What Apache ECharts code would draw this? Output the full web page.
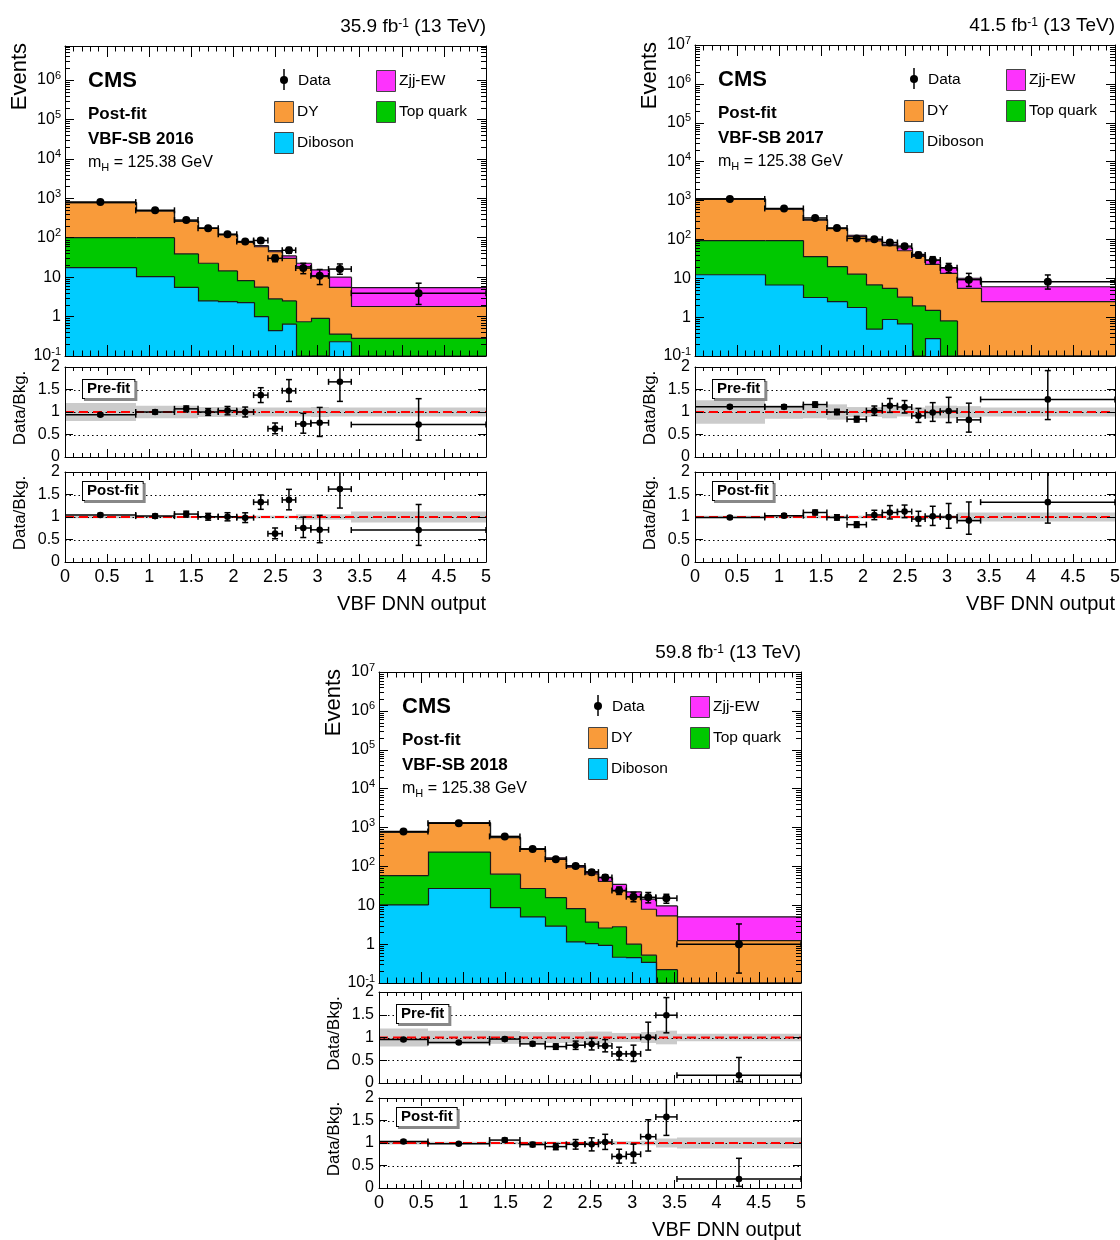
<!DOCTYPE html>
<html><head><meta charset="utf-8">
<script src="https://cdn.jsdelivr.net/npm/echarts@6/dist/echarts.min.js"></script>
<style>html,body{margin:0;padding:0;background:#fff}#c{width:1120px;height:1240px}</style>
</head><body><div id="c"></div><script>
const FONT = '"Liberation Sans", Arial, Helvetica, sans-serif';

// ---------------- data ----------------
const years = ['2016', '2017', '2018'];
const lumis = ['35.9', '41.5', '59.8'];
const xTickLabels = ['0', '0.5', '1', '1.5', '2', '2.5', '3', '3.5', '4', '4.5', '5'];
const ratioTickLabels = ['0', '0.5', '1', '1.5', '2'];
const ratioGuides = [0.5, 1, 1.5];
const logMinorMultipliers = [2, 3, 4, 5, 6, 7, 8, 9];

const edges2016 = [0, 0.84, 1.30, 1.58, 1.82, 2.04, 2.24, 2.41, 2.58, 2.74, 2.92, 3.13, 3.40, 5];
const diboson2016 = [17.5, 10.3, 5.5, 2.5, 2.4, 2.26, 1.0, 0.44, 0.64, 0, 0, 0.23, 0];
const topquark2016 = [82.5, 89.7, 33.2, 20, 12, 5.94, 4.6, 2.36, 1.86, 0.74, 0.9, 0.13, 0.28];
const dy2016 = [676, 377, 222, 150.5, 102.6, 68.3, 53.4, 41.2, 27.5, 17.76, 9.4, 5.14, 1.52];
const zjj2016 = [4, 5, 4, 3, 4, 2.5, 4, 3, 4.5, 4, 4.9, 4.5, 3.6];
const data2016 = [800, 495, 280, 174, 122, 80, 85, 30, 48, 17, 10.8, 16, 3.9];
const errUp2016 = [0.035, 0.045, 0.06, 0.075, 0.09, 0.11, 0.12, 0.2, 0.17, 0.32, 0.45, 0.35, 0.8];
const errDn2016 = [0.035, 0.045, 0.06, 0.075, 0.09, 0.11, 0.12, 0.18, 0.16, 0.28, 0.4, 0.26, 0.48];
const preRatio2016 = [0.94, 1.0, 1.07, 1.0, 1.03, 1.0, 1.375, 0.63, 1.47, 0.735, 0.76, 1.67, 0.72];
const postRatio2016 = [1.045, 1.02, 1.065, 1.005, 1.005, 0.985, 1.33, 0.63, 1.38, 0.755, 0.715, 1.62, 0.71];
const preBand2016 = [0.2, 0.14, 0.14, 0.11, 0.11, 0.1, 0.1, 0.1, 0.1, 0.1, 0.11, 0.1, 0.1];
const postBand2016 = [0.03, 0.025, 0.025, 0.025, 0.025, 0.025, 0.03, 0.03, 0.03, 0.06, 0.06, 0.06, 0.12];

const edges2017 = [0, 0.83, 1.29, 1.57, 1.81, 2.04, 2.23, 2.41, 2.58, 2.74, 2.92, 3.12, 3.40, 5];
const diboson2017 = [12.3, 6.7, 3.2, 2.5, 1.77, 0.49, 0.87, 0.67, 0, 0.28, 0, 0, 0];
const topquark2017 = [80.7, 86.3, 32.8, 17.5, 11.0, 6.3, 4.6, 2.6, 1.95, 1.22, 0.8, 0, 0];
const dy2017 = [1007, 504, 275, 170, 107, 84, 63.5, 47.7, 34.6, 21.3, 12.6, 5.5, 2.5];
const zjj2017 = [5, 8, 12, 6, 8, 6, 6, 10, 4.4, 6.2, 5.3, 4.5, 3.55];
const data2017 = [1095, 625, 355, 195, 106, 101, 83, 67, 39.5, 29.4, 18.5, 9.2, 8.1];
const errUp2017 = [0.03, 0.04, 0.05, 0.06, 0.075, 0.1, 0.14, 0.13, 0.18, 0.22, 0.3, 0.45, 0.5];
const errDn2017 = [0.03, 0.04, 0.05, 0.06, 0.075, 0.1, 0.13, 0.12, 0.16, 0.2, 0.25, 0.33, 0.35];
const preRatio2017 = [1.115, 1.115, 1.165, 1.0, 0.84, 1.03, 1.14, 1.11, 0.915, 0.99, 1.02, 0.825, 1.28];
const postRatio2017 = [0.99, 1.03, 1.1, 0.99, 0.83, 1.045, 1.1, 1.12, 0.955, 1.015, 1.0, 0.92, 1.33];
const preBand2017 = [0.26, 0.15, 0.14, 0.17, 0.11, 0.11, 0.14, 0.1, 0.1, 0.14, 0.14, 0.13, 0.1];
const postBand2017 = [0.03, 0.03, 0.03, 0.03, 0.03, 0.03, 0.03, 0.03, 0.03, 0.04, 0.04, 0.1, 0.1];

const edges2018 = [0, 0.58, 1.31, 1.67, 1.97, 2.22, 2.44, 2.60, 2.76, 2.93, 3.10, 3.28, 3.53, 5];
const diboson2018 = [10.2, 27, 8.7, 5.0, 2.9, 1.14, 1.03, 0.93, 0.46, 0.45, 0.34, 0, 0];
const topquark2018 = [47.8, 206, 54.3, 22, 12.9, 7.06, 2.67, 1.67, 2.34, 0.55, 0.18, 0.22, 0];
const dy2018 = [699, 1087, 487, 246, 141, 86.8, 60.3, 38.4, 20.7, 15.4, 7.38, 5.08, 1.23];
const zjj2018 = [3, 10, 11, 12, 9, 10, 9, 10, 10.9, 5.8, 6.4, 4.3, 3.8];
const data2018 = [790, 1290, 590, 278, 153, 102, 71, 52, 24, 16.6, 16, 15.2, 1.0];
const errUp2018 = [0.03, 0.025, 0.04, 0.05, 0.075, 0.11, 0.15, 0.17, 0.23, 0.3, 0.33, 0.26, 2.3];
const errDn2018 = [0.03, 0.025, 0.04, 0.05, 0.075, 0.11, 0.15, 0.16, 0.21, 0.26, 0.28, 0.26, 0.82];
const preRatio2018 = [0.955, 0.89, 0.965, 0.86, 0.8, 0.83, 0.855, 0.815, 0.64, 0.64, 1.005, 1.49, 0.17];
const postRatio2018 = [1.035, 0.985, 1.065, 0.965, 0.92, 0.97, 0.97, 1.02, 0.7, 0.75, 1.14, 1.58, 0.2];
const preBand2018 = [0.2, 0.15, 0.14, 0.12, 0.12, 0.12, 0.13, 0.13, 0.1, 0.1, 0.12, 0.15, 0.08];
const postBand2018 = [0.035, 0.03, 0.03, 0.03, 0.03, 0.03, 0.03, 0.03, 0.04, 0.04, 0.05, 0.1, 0.12];

// ---------------- style / layout ----------------
const COLORS = { Diboson: '#00ccff', 'Top quark': '#00c800', DY: '#f99b3a', 'Zjj-EW': '#fd33fd' };
const YMIN = 0.1;
const yMaxMain = [7.28e6, 1e7, 1e7];
const LAY = [
  { L: 65, W: 421, mT: 46, mH: 310, pT: 367, pH: 90, qT: 472, qH: 90 },
  { L: 695, W: 420, mT: 45, mH: 311, pT: 367, pH: 90, qT: 472, qH: 90 },
  { L: 379, W: 422, mT: 672, mH: 311, pT: 992, pH: 91, qT: 1098, qH: 90 }
];

const YEARDATA = [
  { edges: edges2016, comps: [diboson2016, topquark2016, dy2016, zjj2016], data: data2016, up: errUp2016, dn: errDn2016, pre: preRatio2016, post: postRatio2016, preB: preBand2016, postB: postBand2016 },
  { edges: edges2017, comps: [diboson2017, topquark2017, dy2017, zjj2017], data: data2017, up: errUp2017, dn: errDn2017, pre: preRatio2017, post: postRatio2017, preB: preBand2017, postB: postBand2017 },
  { edges: edges2018, comps: [diboson2018, topquark2018, dy2018, zjj2018], data: data2018, up: errUp2018, dn: errDn2018, pre: preRatio2018, post: postRatio2018, preB: preBand2018, postB: postBand2018 }
];
const COMPNAMES = ['Diboson', 'Top quark', 'DY', 'Zjj-EW'];

const option = { animation: false, backgroundColor: '#fff', grid: [], xAxis: [], yAxis: [], series: [], graphic: [] };

function logFmt(v) {
  const e = Math.log10(v), r = Math.round(e);
  if (Math.abs(e - r) > 1e-6) return '';
  if (r === 0) return '1';
  if (r === 1) return '10';
  return '{b|10}{s|' + r + '}';
}
const axisCommon = (g, pos) => ({
  gridIndex: g, position: pos, z: 10,
  axisLine: { show: true, onZero: false, lineStyle: { color: '#000', width: 1 } },
  splitLine: { show: false }, minorSplitLine: { show: false }
});
const rx = v => Math.round(v);

// ---------------- renderers ----------------
function fillRender(color) {
  return (p, api) => {
    const x0 = api.value(0), x1 = api.value(1), lo = api.value(2), hi = api.value(3);
    if (!(hi > lo)) return null;
    const a = api.coord([x0, lo]), b = api.coord([x1, hi]);
    const X0 = rx(a[0]), X1 = rx(b[0]);
    return { type: 'rect', shape: { x: X0, y: b[1], width: X1 - X0, height: a[1] - b[1] }, style: { fill: color, stroke: null, lineWidth: 0 } };
  };
}
function outlineRender(p, api) {
  const x0 = api.value(0), x1 = api.value(1), hi = api.value(3), prev = api.value(4);
  const a = api.coord([x0, hi]), b = api.coord([x1, hi]), pv = api.coord([x0, prev]);
  const X0 = rx(a[0]) + 0.5, X1 = rx(b[0]) + 0.5;
  return { type: 'polyline', shape: { points: [[X0, pv[1]], [X0, a[1]], [X1, b[1]]] },
    style: { stroke: '#1a1a1a', lineWidth: 1.2, fill: 'none' } };
}
function pointRender(r) {
  return (p, api) => {
    const xc = api.value(0), x0 = api.value(1), x1 = api.value(2), y = api.value(3), lo = api.value(4), hi = api.value(5);
    const c = api.coord([xc, y]), L = api.coord([x0, y]), R = api.coord([x1, y]), U = api.coord([xc, hi]), D = api.coord([xc, lo]);
    const st = { stroke: '#000', lineWidth: 1.5, fill: 'none' };
    const cap = 3;
    return { type: 'group', children: [
      { type: 'line', shape: { x1: L[0], y1: c[1], x2: R[0], y2: c[1] }, style: st },
      { type: 'line', shape: { x1: L[0], y1: c[1] - cap, x2: L[0], y2: c[1] + cap }, style: st },
      { type: 'line', shape: { x1: R[0], y1: c[1] - cap, x2: R[0], y2: c[1] + cap }, style: st },
      { type: 'line', shape: { x1: c[0], y1: U[1], x2: c[0], y2: D[1] }, style: st },
      { type: 'line', shape: { x1: c[0] - cap, y1: U[1], x2: c[0] + cap, y2: U[1] }, style: st },
      { type: 'line', shape: { x1: c[0] - cap, y1: D[1], x2: c[0] + cap, y2: D[1] }, style: st },
      { type: 'circle', shape: { cx: c[0], cy: c[1], r: r }, style: { fill: '#000', stroke: 'none' } }
    ] };
  };
}
function bandRender(p, api) {
  const a = api.coord([api.value(0), api.value(2)]), b = api.coord([api.value(1), api.value(3)]);
  const X0 = rx(a[0]), X1 = rx(b[0]);
  return { type: 'rect', shape: { x: X0, y: b[1], width: X1 - X0, height: a[1] - b[1] }, style: { fill: '#cbcbcb', stroke: 'none' } };
}
function guideRender(p, api) {
  const y = api.value(2);
  const a = api.coord([0, y]), b = api.coord([5, y]);
  const Y = Math.round(a[1]) + 0.5;
  const ch = [{ type: 'line', shape: { x1: a[0], y1: Y, x2: b[0], y2: Y }, style: { stroke: '#000', lineWidth: 1, lineDash: [1.5, 3] } }];
  if (Math.abs(y - 1) < 1e-9) ch.push({ type: 'line', shape: { x1: a[0], y1: a[1], x2: b[0], y2: b[1] }, style: { stroke: '#ff0000', lineWidth: 2, lineDash: [9, 5] } });
  return { type: 'group', children: ch };
}
function logMinorRender(p, api) {
  const v = api.value(2);
  const a = api.coord([0, v]), b = api.coord([5, v]);
  const Y = Math.round(a[1]) + 0.5, st = { stroke: '#000', lineWidth: 1 };
  return { type: 'group', children: [
    { type: 'line', shape: { x1: a[0], y1: Y, x2: a[0] + 5, y2: Y }, style: st },
    { type: 'line', shape: { x1: b[0] - 5, y1: Y, x2: b[0], y2: Y }, style: st }
  ] };
}

// ---------------- build ----------------
const G = option.graphic;
function T(x, y, text, size, o) {
  o = o || {};
  G.push({ type: 'text', x: x, y: y, z: 100, silent: true, rotation: o.rot || 0,
    style: Object.assign({ text: text, fontSize: size, fontFamily: FONT, fontWeight: o.bold ? 'bold' : 'normal', fill: '#000',
      align: o.align || 'left', verticalAlign: o.va || 'middle' }, o.extra || {}) });
}

years.forEach((Y, k) => {
  const lay = LAY[k], D = YEARDATA[k], e = D.edges, n = e.length - 1;
  const panels = [[lay.mT, lay.mH, 'main'], [lay.pT, lay.pH, 'pre'], [lay.qT, lay.qH, 'post']];
  panels.forEach(([top, h, kind], j) => {
    const g = 3 * k + j, isMain = kind === 'main';
    option.grid.push({ left: lay.L, top: top, width: lay.W, height: h, outerBoundsMode: 'none', containLabel: false });
    const tl = isMain ? 11 : 8;
    ['bottom', 'top'].forEach(pos => option.xAxis.push(Object.assign(axisCommon(g, pos), {
      type: 'value', min: 0, max: 5, interval: 0.5,
      axisTick: { show: true, inside: true, length: tl, lineStyle: { color: '#000' } },
      minorTick: { show: true, splitNumber: 5, length: tl / 2, lineStyle: { color: '#000' } },
      axisLabel: { show: kind === 'post' && pos === 'bottom', color: '#000', fontSize: 18, fontFamily: FONT, margin: 6,
        hideOverlap: false, showMinLabel: true, showMaxLabel: true,
        formatter: v => xTickLabels[Math.round(v * 2)] }
    })));
    ['left', 'right'].forEach(pos => {
      if (isMain) {
        option.yAxis.push(Object.assign(axisCommon(g, pos), {
          type: 'log', logBase: 10, min: YMIN, max: yMaxMain[k],
          axisTick: { show: true, inside: true, length: 9, lineStyle: { color: '#000' } },
          minorTick: { show: false },
          axisLabel: { show: pos === 'left', color: '#000', fontSize: 16, fontFamily: FONT, margin: 4, hideOverlap: false,
            showMinLabel: true, showMaxLabel: true, formatter: logFmt,
            rich: { b: { fontSize: 16, fontFamily: FONT, color: '#000', lineHeight: 20 },
                    s: { fontSize: 11, fontFamily: FONT, color: '#000', verticalAlign: 'top', lineHeight: 12 } } }
        }));
      } else {
        option.yAxis.push(Object.assign(axisCommon(g, pos), {
          type: 'value', min: 0, max: 2, interval: 0.5,
          axisTick: { show: true, inside: true, length: 8, lineStyle: { color: '#000' } },
          minorTick: { show: false },
          axisLabel: { show: pos === 'left', color: '#000', fontSize: 16, fontFamily: FONT, margin: 5, hideOverlap: false,
            showMinLabel: true, showMaxLabel: true, formatter: v => ratioTickLabels[Math.round(v * 2)] }
        }));
      }
    });
    const axIdx = { xAxisIndex: 2 * g, yAxisIndex: 2 * g };

    if (isMain) {
      // stacked histogram
      let cum = new Array(n).fill(0);
      const outlines = [];
      D.comps.forEach((arr, ci) => {
        const lo = cum.slice();
        cum = cum.map((c, i) => c + arr[i]);
        const hi = cum.slice();
        const cl = v => Math.max(v, YMIN);
        const items = [];
        for (let i = 0; i < n; i++) items.push([e[i], e[i + 1], cl(lo[i]), cl(hi[i]), i > 0 ? cl(hi[i - 1]) : cl(hi[i])]);
        option.series.push(Object.assign({ type: 'custom', name: COMPNAMES[ci], clip: true, z: 2, silent: true,
          encode: { x: [0, 1], y: [2, 3] }, data: items, renderItem: fillRender(COLORS[COMPNAMES[ci]]) }, axIdx));
        outlines.push(Object.assign({ type: 'custom', clip: true, z: 3, silent: true,
          encode: { x: [0, 1], y: [2, 3] }, data: items.map(r => r.slice()), renderItem: outlineRender }, axIdx));
      });
      outlines.forEach(s => option.series.push(s));
      // log minor ticks
      const minorVals = [];
      for (let d = -1; d <= 6; d++) logMinorMultipliers.forEach(m => { const v = m * Math.pow(10, d); if (v < yMaxMain[k]) minorVals.push([0, 5, v]); });
      option.series.push(Object.assign({ type: 'custom', clip: true, z: 11, silent: true,
        encode: { x: [0, 1], y: [2] }, data: minorVals, renderItem: logMinorRender }, axIdx));
      const pts = [];
      for (let i = 0; i < n; i++) {
        const d = D.data[i];
        pts.push([(e[i] + e[i + 1]) / 2, e[i], e[i + 1], d, Math.max(d * (1 - D.dn[i]), YMIN), d * (1 + D.up[i])]);
      }
      option.series.push(Object.assign({ type: 'custom', name: 'Data', clip: true, z: 5, silent: true,
        encode: { x: [1, 2], y: [3, 4, 5] }, data: pts, renderItem: pointRender(4) }, axIdx));
    } else {
      const ratio = kind === 'pre' ? D.pre : D.post, band = kind === 'pre' ? D.preB : D.postB;
      const bItems = [], pItems = [];
      for (let i = 0; i < n; i++) {
        bItems.push([e[i], e[i + 1], 1 - band[i], 1 + band[i]]);
        const r = ratio[i];
        pItems.push([(e[i] + e[i + 1]) / 2, e[i], e[i + 1], r, Math.max(r * (1 - D.dn[i]), 0), r * (1 + D.up[i])]);
      }
      option.series.push(Object.assign({ type: 'custom', clip: true, z: 2, silent: true,
        encode: { x: [0, 1], y: [2, 3] }, data: bItems, renderItem: bandRender }, axIdx));
      option.series.push(Object.assign({ type: 'custom', clip: true, z: 3, silent: true,
        encode: { x: [0, 1], y: [2, 3] }, data: ratioGuides.map(v => [0, 5, v, v]), renderItem: guideRender }, axIdx));
      option.series.push(Object.assign({ type: 'custom', clip: true, z: 5, silent: true,
        encode: { x: [1, 2], y: [3, 4, 5] }, data: pItems, renderItem: pointRender(3.3) }, axIdx));
      // Pre-fit / Post-fit label box
      T(lay.L + 18, top + (kind === 'pre' ? 22 : 19), kind === 'pre' ? 'Pre-fit' : 'Post-fit', 15, { bold: true,
        extra: { backgroundColor: '#fff', borderColor: '#000', borderWidth: 1, padding: [2, 4, 1, 4],
          shadowColor: '#888', shadowOffsetX: 2, shadowOffsetY: 2, shadowBlur: 0 } });
      T(lay.L - 45, top + h / 2 - 4, 'Data/Bkg.', 17, { rot: Math.PI / 2, align: 'center' });
    }
  });

  // texts for the main panel
  const L = lay.L, Tp = lay.mT, R = lay.L + lay.W;
  T(R, Tp - 19, lumis[k] + ' fb{s|-1} (13 TeV)', 19, { align: 'right',
    extra: { rich: { s: { fontSize: 12, fontFamily: FONT, fill: '#000', verticalAlign: 'top', lineHeight: 12 } } } });
  T(L - 45, Tp - 3, 'Events', 22, { rot: Math.PI / 2, align: 'right' });
  T(L + 23, Tp + 35, 'CMS', 22, { bold: true });
  T(L + 23, Tp + 68, 'Post-fit', 17, { bold: true });
  T(L + 23, Tp + 93, 'VBF-SB ' + Y, 17, { bold: true });
  T(L + 23, Tp + 117, '{n|m}{h|H}{n| = 125.38 GeV}', 16, {
    extra: { rich: { n: { fontSize: 16, fontFamily: FONT, fill: '#000', lineHeight: 20 },
                     h: { fontSize: 11, fontFamily: FONT, fill: '#000', verticalAlign: 'bottom', lineHeight: 12, padding: [8, 0, 0, 0] } } } });
  // legend
  G.push({ type: 'line', z: 100, silent: true, shape: { x1: L + 219, y1: Tp + 23, x2: L + 219, y2: Tp + 44 }, style: { stroke: '#000', lineWidth: 1.5 } });
  G.push({ type: 'circle', z: 100, silent: true, shape: { cx: L + 219, cy: Tp + 34, r: 4 }, style: { fill: '#000' } });
  T(L + 233, Tp + 35, 'Data', 15.5);
  const legBoxes = [['DY', L + 209, Tp + 65], ['Diboson', L + 209, Tp + 96], ['Zjj-EW', L + 311, Tp + 34], ['Top quark', L + 311, Tp + 65]];
  legBoxes.forEach(([nm, x, yc]) => {
    G.push({ type: 'rect', z: 100, silent: true, shape: { x: x + 0.5, y: yc - 10 + 0.5, width: 19, height: 21 }, style: { fill: COLORS[nm], stroke: '#444', lineWidth: 1 } });
    T(x + 23, yc + 1, nm, 15.5);
  });
  T(R, lay.qT + lay.qH + 42, 'VBF DNN output', 20, { align: 'right' });
});

const chart = echarts.init(document.getElementById('c'), null, { renderer: 'canvas' });
chart.setOption(option);
</script></body></html>
